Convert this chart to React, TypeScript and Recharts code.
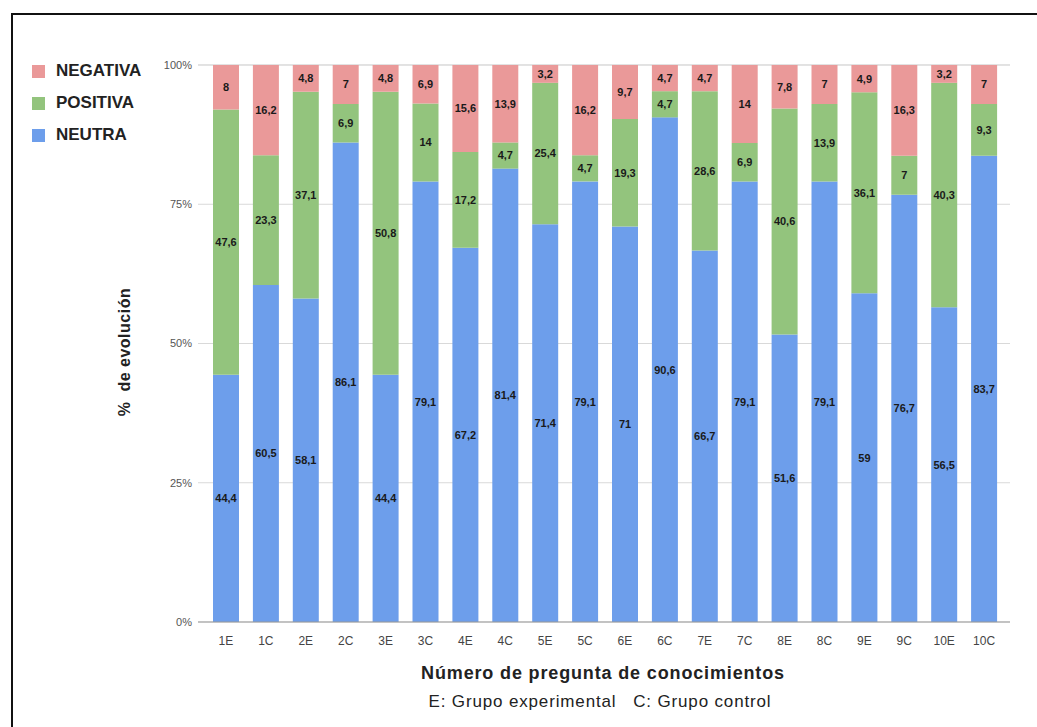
import React from "react";
import {
  BarChart,
  Bar,
  XAxis,
  YAxis,
  CartesianGrid,
  LabelList,
} from "recharts";

const categories = [
  "1E", "1C", "2E", "2C", "3E", "3C", "4E", "4C", "5E", "5C",
  "6E", "6C", "7E", "7C", "8E", "8C", "9E", "9C", "10E", "10C",
];

const neutra = [
  44.4, 60.5, 58.1, 86.1, 44.4, 79.1, 67.2, 81.4, 71.4, 79.1,
  71, 90.6, 66.7, 79.1, 51.6, 79.1, 59, 76.7, 56.5, 83.7,
];

const positiva = [
  47.6, 23.3, 37.1, 6.9, 50.8, 14, 17.2, 4.7, 25.4, 4.7,
  19.3, 4.7, 28.6, 6.9, 40.6, 13.9, 36.1, 7, 40.3, 9.3,
];

const negativa = [
  8, 16.2, 4.8, 7, 4.8, 6.9, 15.6, 13.9, 3.2, 16.2,
  9.7, 4.7, 4.7, 14, 7.8, 7, 4.9, 16.3, 3.2, 7,
];

const yTicks = [0, 25, 50, 75, 100];

const COLORS = {
  neutra: "#6d9eeb",
  positiva: "#93c47d",
  negativa: "#ea9999",
};

const legendItems = [
  { label: "NEGATIVA", color: COLORS.negativa },
  { label: "POSITIVA", color: COLORS.positiva },
  { label: "NEUTRA", color: COLORS.neutra },
];

const data = categories.map((name, i) => ({
  name,
  neutra: neutra[i],
  positiva: positiva[i],
  negativa: negativa[i],
}));

const FONT = "'Liberation Sans', Arial, sans-serif";

// decimal comma, as in the labels
const fmt = (v: unknown) => String(v).replace(".", ",");

const labelStyle = {
  fontFamily: FONT,
  fontSize: 11,
  fontWeight: 700,
  fill: "#1a1a1a",
};

export default function App() {
  return (
    <div
      style={{
        position: "absolute",
        left: 0,
        top: 0,
        width: 1037,
        height: 727,
        background: "#fff",
        overflow: "hidden",
        fontFamily: FONT,
      }}
    >
      {/* frame */}
      <div
        style={{
          position: "absolute",
          left: 11,
          top: 13,
          width: 1100,
          height: 800,
          borderTop: "2px solid #111",
          borderLeft: "2px solid #111",
        }}
      />

      <BarChart
        width={1037}
        height={727}
        data={data}
        margin={{ top: 65, right: 27, bottom: 75, left: 0 }}
        barSize={26}
        style={{ position: "absolute", left: 0, top: 0 }}
      >
        <CartesianGrid vertical={false} stroke="#d9d9d9" />
        <XAxis
          dataKey="name"
          height={30}
          padding={{ left: 8, right: 6 }}
          axisLine={{ stroke: "#999" }}
          tickLine={false}
          tickMargin={8}
          interval={0}
          tick={{ fontFamily: FONT, fontSize: 12, fill: "#444" }}
        />
        <YAxis
          width={198}
          domain={[0, 100]}
          ticks={yTicks}
          axisLine={false}
          tickLine={false}
          tickSize={4}
          tickMargin={2}
          tickFormatter={(v) => `${v}%`}
          tick={{ fontFamily: FONT, fontSize: 11, fill: "#555" }}
        />
        <Bar dataKey="neutra" stackId="a" fill={COLORS.neutra} isAnimationActive={false}>
          <LabelList dataKey="neutra" position="center" formatter={fmt} style={labelStyle} />
        </Bar>
        <Bar dataKey="positiva" stackId="a" fill={COLORS.positiva} isAnimationActive={false}>
          <LabelList dataKey="positiva" position="center" formatter={fmt} style={labelStyle} />
        </Bar>
        <Bar dataKey="negativa" stackId="a" fill={COLORS.negativa} isAnimationActive={false}>
          <LabelList dataKey="negativa" position="center" formatter={fmt} style={labelStyle} />
        </Bar>
      </BarChart>

      {/* legend */}
      {legendItems.map((item, i) => (
        <div
          key={item.label}
          style={{
            position: "absolute",
            left: 32,
            top: 61 + i * 32,
            height: 20,
            display: "flex",
            alignItems: "center",
            gap: 11,
          }}
        >
          <span style={{ width: 13, height: 13, background: item.color, display: "inline-block" }} />
          <span style={{ fontSize: 17, fontWeight: 600, color: "#222" }}>{item.label}</span>
        </div>
      ))}

      {/* y axis title */}
      <div
        style={{
          position: "absolute",
          left: 125,
          top: 352,
          transform: "translate(-50%, -50%) rotate(-90deg)",
          whiteSpace: "nowrap",
          fontSize: 16,
          fontWeight: 700,
          letterSpacing: 0.5,
          color: "#222",
        }}
      >
        %&nbsp; de evolución
      </div>

      {/* x axis titles */}
      <div
        style={{
          position: "absolute",
          left: 603,
          top: 673,
          transform: "translate(-50%, -50%)",
          whiteSpace: "nowrap",
          fontSize: 18,
          fontWeight: 700,
          letterSpacing: 0.85,
          color: "#222",
        }}
      >
        Número de pregunta de conocimientos
      </div>
      <div
        style={{
          position: "absolute",
          left: 600,
          top: 702,
          transform: "translate(-50%, -50%)",
          whiteSpace: "pre",
          fontSize: 17,
          letterSpacing: 0.85,
          color: "#222",
        }}
      >
        {"E: Grupo experimental   C: Grupo control"}
      </div>
    </div>
  );
}
